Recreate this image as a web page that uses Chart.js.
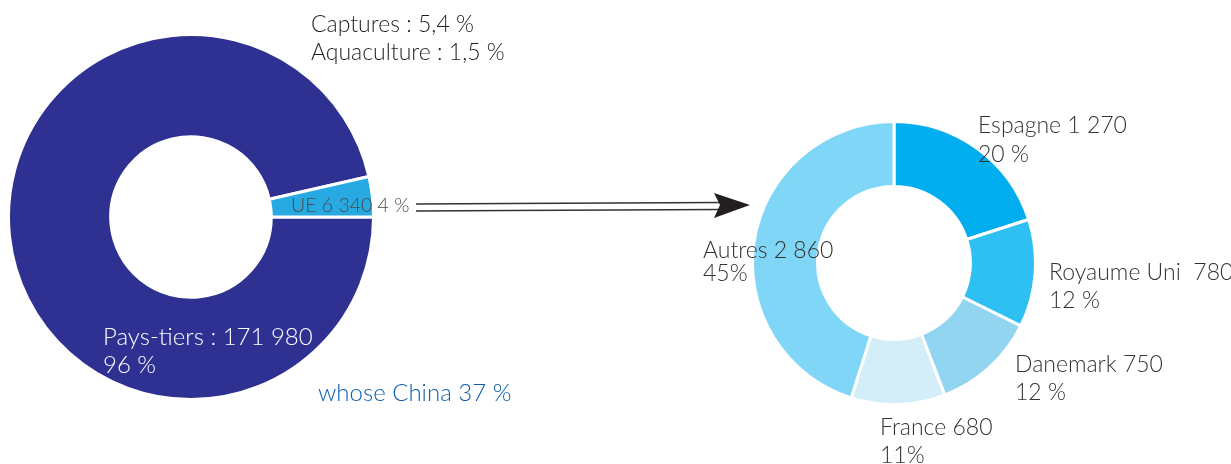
<!DOCTYPE html>
<html>
<head>
<meta charset="utf-8">
<script src="https://cdn.jsdelivr.net/npm/chart.js@4/dist/chart.umd.min.js"></script>
<style>
  body { margin: 0; background: #fff; width: 1231px; height: 464px; overflow: hidden; position: relative; font-family: "Lato", "Noto Sans", sans-serif; font-weight: 300; }
  canvas { position: absolute; }
  .lbl { position: absolute; font-size: 23px; line-height: 28px; white-space: pre; color: #333; }
  #arrow { position: absolute; left: 0; top: 0; }
</style>
</head>
<body>
<canvas id="leftChart" width="368" height="368" style="left:7px;top:33px"></canvas>
<canvas id="rightChart" width="286" height="286" style="left:751px;top:120px"></canvas>

<svg id="arrow" width="1231" height="464">
  <line x1="416" y1="204" x2="722" y2="202.5" stroke="#333" stroke-width="1.5" />
  <line x1="416" y1="211" x2="722" y2="209.5" stroke="#333" stroke-width="1.5" />
  <polygon points="714,193 750,205 714,218 720,205" fill="#231f20" />
</svg>

<div class="lbl" id="topNote" style="left:311px;top:9px;color:#231f20"></div>
<div class="lbl" id="ueLbl" style="left:291px;top:193px;font-size:19.5px;line-height:23px;color:#4a4a4a"></div>
<div class="lbl" id="paysLbl" style="left:103px;top:322px;font-size:24px;color:#fff"></div>
<div class="lbl" id="chinaLbl" style="left:318px;top:378px;font-size:24px;color:#0b5fad"></div>

<div class="lbl" id="r0" style="left:978px;top:110px;line-height:29px"></div>
<div class="lbl" id="r1" style="left:1049px;top:257px"></div>
<div class="lbl" id="r2" style="left:1015px;top:349px"></div>
<div class="lbl" id="r3" style="left:880px;top:412px"></div>
<div class="lbl" id="r4" style="left:703px;top:238px;line-height:23px"></div>

<script>
// left doughnut: imports by origin
const leftLabels = ["Pays-tiers", "UE"];
const leftValues = [171980, 6340];
const leftShares = ["96 %", "4 %"];
const leftColors = ["#2e3192", "#27aae1"];

// right doughnut: EU breakdown
const rightLabels = ["Espagne", "Royaume Uni ", "Danemark", "France", "Autres"];
const rightValues = [1270, 780, 750, 680, 2860];
const rightShares = ["20 %", "12 %", "12 %", "11%", "45%"];
const rightColors = ["#00aeef", "#2ec0f2", "#92d5f0", "#d3edf9", "#80d6f7"];

const notes = ["Captures : 5,4 %", "Aquaculture : 1,5 %"];
const chinaNote = "whose China 37 %";

function fmt(v) {
  return String(v).replace(/\B(?=(\d{3})+(?!\d))/g, " ");
}

document.getElementById("topNote").innerText = notes.join("\n");
document.getElementById("ueLbl").innerText =
  leftLabels[1] + " " + fmt(leftValues[1]) + " " + leftShares[1];
document.getElementById("paysLbl").innerText =
  leftLabels[0] + " : " + fmt(leftValues[0]) + "\n" + leftShares[0];
document.getElementById("chinaLbl").innerText = chinaNote;

rightLabels.forEach((name, i) => {
  document.getElementById("r" + i).innerText =
    name + " " + fmt(rightValues[i]) + "\n" + rightShares[i];
});

const common = {
  responsive: false,
  animation: false,
  plugins: {
    legend: { display: false },
    tooltip: { enabled: false },
  },
};

new Chart(document.getElementById("leftChart"), {
  type: "doughnut",
  data: {
    labels: leftLabels,
    datasets: [
      {
        data: leftValues,
        backgroundColor: leftColors,
        borderColor: "#fff",
        borderWidth: 3,
      },
    ],
  },
  options: { ...common, rotation: 90, cutout: "44%" },
});

new Chart(document.getElementById("rightChart"), {
  type: "doughnut",
  data: {
    labels: rightLabels,
    datasets: [
      {
        data: rightValues,
        backgroundColor: rightColors,
        borderColor: "#fff",
        borderWidth: 3,
      },
    ],
  },
  options: { ...common, rotation: 0, cutout: "54%" },
});
</script>
</body>
</html>
